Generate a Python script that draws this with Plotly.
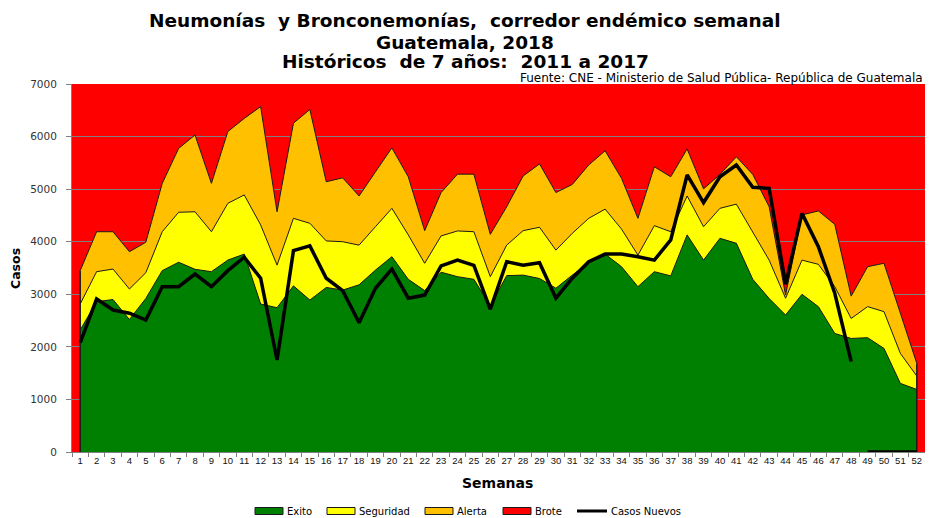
import plotly.graph_objects as go

semanas = [str(i) for i in range(1, 53)]

exito = [2320, 2860, 2900, 2520, 2920, 3450, 3610, 3475, 3430, 3650, 3765, 2815,
         2745, 3160, 2890, 3130, 3080, 3180, 3460, 3715, 3285, 3070, 3420, 3335,
         3285, 2780, 3355, 3365, 3300, 3115, 3365, 3600, 3765, 3525, 3145, 3430,
         3350, 4130, 3650, 4065, 3970, 3285, 2920, 2605, 3000, 2765, 2255, 2160,
         2175, 1970, 1305, 1190]

seguridad = [2815, 3430, 3480, 3100, 3410, 4190, 4560, 4570, 4190, 4730, 4890, 4320,
             3555, 4445, 4350, 4015, 4000, 3935, 4285, 4635, 4130, 3590, 4110, 4205,
             4190, 3335, 3935, 4210, 4275, 3840, 4160, 4445, 4620, 4240, 3745, 4305,
             4190, 4870, 4285, 4635, 4715, 4190, 3650, 2925, 3650, 3570, 3145, 2540,
             2765, 2670, 1875, 1445]

alerta = [3450, 4190, 4190, 3810, 3990, 5110, 5775, 6030, 5110, 6095, 6345, 6570,
          4570, 6255, 6515, 5140, 5215, 4870, 5330, 5785, 5235, 4210, 4935, 5285,
          5285, 4140, 4665, 5250, 5480, 4935, 5090, 5460, 5730, 5205, 4445, 5425,
          5235, 5765, 5005, 5280, 5615, 5280, 4665, 2985, 4510, 4585, 4330, 2965,
          3525, 3590, 2640, 1685]

casos_nuevos = [2080, 2910, 2700, 2640, 2510, 3145, 3145, 3385, 3145, 3450, 3705, 3305,
                1750, 3830, 3920, 3305, 3070, 2460, 3115, 3480, 2925, 2985, 3540, 3650,
                3550, 2715, 3620, 3555, 3600, 2925, 3305, 3620, 3765, 3765, 3715, 3650,
                4035, 5270, 4745, 5235, 5460, 5035, 5015, 3190, 4540, 3905, 3020, 1720,
                0, 0, 0, 0]

y_ticks = [0, 1000, 2000, 3000, 4000, 5000, 6000, 7000]

titulo = ["Neumonías  y Bronconemonías,  corredor endémico semanal",
          "Guatemala, 2018",
          "Históricos  de 7 años:  2011 a 2017"]
fuente = "Fuente: CNE - Ministerio de Salud Pública- República de Guatemala"
leyenda = ["Exito", "Seguridad", "Alerta", "Brote", "Casos Nuevos"]

C_EXITO = "#008000"
C_SEG = "#FFFF00"
C_ALERTA = "#FFC000"
C_BROTE = "#FF0000"
EDGE = "#1a1a1a"
FONT = "DejaVu Sans, Liberation Sans, sans-serif"

# figure geometry (page body adds an 8px offset)
W, H = 925, 510
ML, MR, MT, MB = 64, 8, 76, 66
PW = W - ML - MR
PH = H - MT - MB


def px(sx):  # screen x -> paper x
    return (sx - 8 - ML) / PW


def py(sy):  # screen y -> paper y
    return (H - MB - (sy - 8)) / PH


fig = go.Figure()

fig.add_trace(go.Scatter(x=semanas, y=alerta, name=leyenda[2], mode="lines",
                         fill="tozeroy", fillcolor=C_ALERTA,
                         line=dict(color=EDGE, width=1)))
fig.add_trace(go.Scatter(x=semanas, y=seguridad, name=leyenda[1], mode="lines",
                         fill="tozeroy", fillcolor=C_SEG,
                         line=dict(color=EDGE, width=1)))
fig.add_trace(go.Scatter(x=semanas, y=exito, name=leyenda[0], mode="lines",
                         fill="tozeroy", fillcolor=C_EXITO,
                         line=dict(color=EDGE, width=1)))
# vertical edges of the areas
fig.add_trace(go.Scatter(x=[semanas[0], semanas[0]], y=[0, alerta[0]], mode="lines",
                         line=dict(color=EDGE, width=1.5), hoverinfo="skip"))
fig.add_trace(go.Scatter(x=[semanas[-1], semanas[-1]], y=[0, alerta[-1]], mode="lines",
                         line=dict(color=EDGE, width=1.5), hoverinfo="skip"))

n_rep = 48
fig.add_trace(go.Scatter(x=semanas[:n_rep], y=casos_nuevos[:n_rep], name=leyenda[4],
                         mode="lines", line=dict(color="black", width=3.5)))
fig.add_trace(go.Scatter(x=semanas[n_rep:], y=casos_nuevos[n_rep:], mode="lines",
                         line=dict(color="black", width=3.5)))

annotations = []
shapes = []

# title lines
for txt, sy in zip(titulo, [21, 42.5, 61]):
    annotations.append(dict(text="<b>" + txt + "</b>", xref="paper", yref="paper",
                            x=px(465), y=py(sy), xanchor="center", yanchor="middle",
                            showarrow=False,
                            font=dict(size=18.5, family=FONT, color="black")))
# source
annotations.append(dict(text=fuente, xref="paper", yref="paper", x=1, y=py(78),
                        xanchor="right", yanchor="middle", showarrow=False,
                        font=dict(size=12, family=FONT, color="black")))
# axis titles
annotations.append(dict(text="<b>Semanas</b>", xref="paper", yref="paper",
                        x=px(497.5), y=py(483), xanchor="center", yanchor="middle",
                        showarrow=False, font=dict(size=14, family=FONT, color="black")))
annotations.append(dict(text="<b>Casos</b>", xref="paper", yref="paper",
                        x=px(15.5), y=py(268.5), xanchor="center", yanchor="middle",
                        textangle=-90, showarrow=False,
                        font=dict(size=12.5, family=FONT, color="black")))

# custom legend
leg_y = 511
swatches = [(255, C_EXITO), (327, C_SEG), (425, C_ALERTA), (503, C_BROTE)]
for (sx, col), name in zip(swatches, leyenda[:4]):
    shapes.append(dict(type="rect", xref="paper", yref="paper",
                       x0=px(sx), x1=px(sx + 28), y0=py(leg_y - 3.5), y1=py(leg_y + 3.5),
                       fillcolor=col, line=dict(color=EDGE, width=1)))
    annotations.append(dict(text=name, xref="paper", yref="paper", x=px(sx + 29.5),
                            y=py(leg_y), xanchor="left", yanchor="middle",
                            showarrow=False,
                            font=dict(size=10, family=FONT, color="black")))
shapes.append(dict(type="line", xref="paper", yref="paper", x0=px(577), x1=px(607),
                   y0=py(leg_y), y1=py(leg_y), line=dict(color="black", width=3)))
annotations.append(dict(text=leyenda[4], xref="paper", yref="paper", x=px(608.5),
                        y=py(leg_y), xanchor="left", yanchor="middle", showarrow=False,
                        font=dict(size=10, family=FONT, color="black")))

fig.update_layout(
    width=W, height=H,
    margin=dict(l=ML, r=MR, t=MT, b=MB, autoexpand=False),
    paper_bgcolor="white",
    plot_bgcolor=C_BROTE,
    font=dict(family=FONT, color="black"),
    showlegend=False,
    annotations=annotations,
    shapes=shapes,
)

fig.update_xaxes(
    type="category", tickmode="linear", tick0=0, dtick=1, tickson="boundaries",
    ticks="outside", ticklen=4, tickcolor="#808080", tickangle=0,
    showline=True, linecolor="#808080", linewidth=1, showgrid=False,
    tickfont=dict(size=9.5, color="#111111",
                  family="Liberation Sans Narrow, Arial Narrow, Liberation Sans, sans-serif"),
    range=[-0.5, 51.5],
)
fig.update_yaxes(
    range=[0, 7000], tickmode="array", tickvals=y_ticks,
    ticks="outside", ticklen=5, tickcolor="#808080", ticklabelstandoff=7,
    showline=True, linecolor="#808080", linewidth=1,
    showgrid=True, gridcolor="#808080", gridwidth=1, zeroline=False,
    tickfont=dict(size=10.5, family=FONT, color="#333333"),
)

fig.write_html("out.html")
